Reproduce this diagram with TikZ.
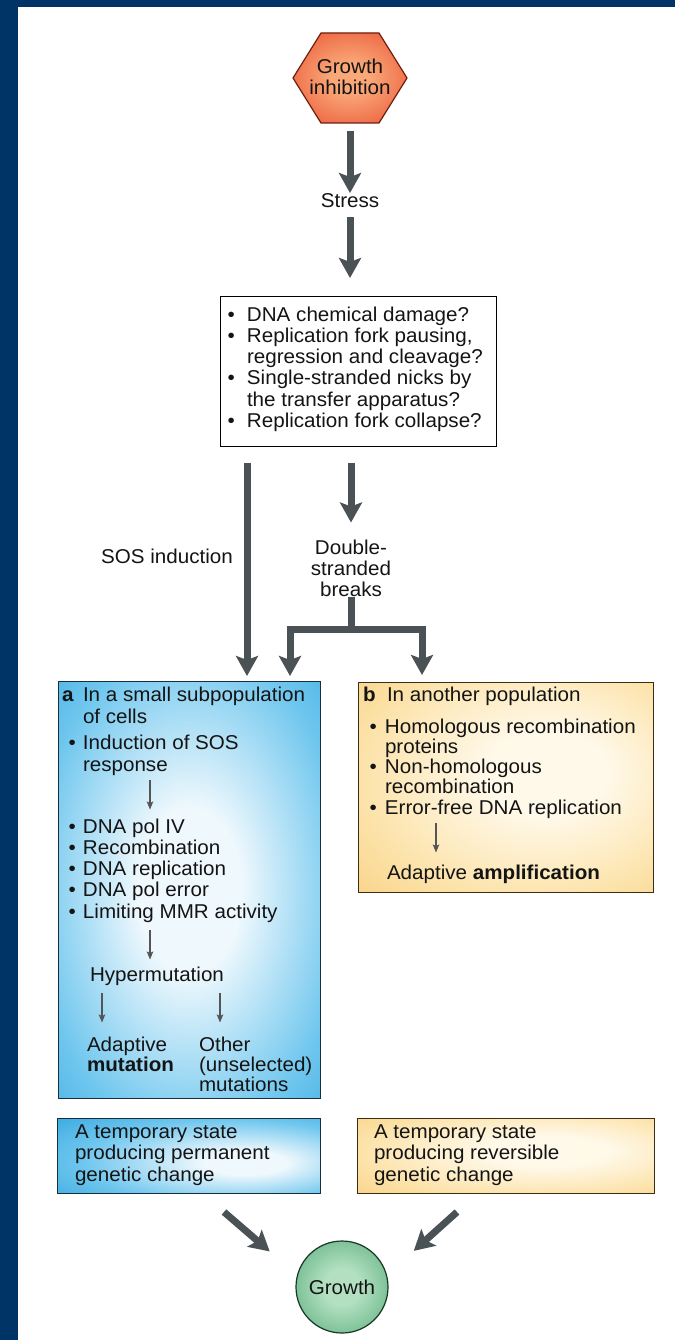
\documentclass[tikz,border=0pt]{standalone}
\usepackage{fontspec}
\setmainfont{Liberation Sans}[FakeStretch=1.03]
\usetikzlibrary{arrows.meta,calc,shapes.geometric}

\definecolor{navy}{RGB}{0,51,102}
\definecolor{arrowgray}{RGB}{75,82,86}
\definecolor{thingray}{RGB}{85,85,85}
\definecolor{inkcol}{RGB}{20,20,20}
\definecolor{hexin}{RGB}{250,168,120}
\definecolor{hexout}{RGB}{228,55,28}
\definecolor{hexline}{RGB}{110,30,15}
\definecolor{bluein}{RGB}{238,248,253}
\definecolor{bluemid}{RGB}{110,198,238}
\definecolor{blueout}{RGB}{22,150,214}
\definecolor{blueline}{RGB}{25,45,60}
\definecolor{yelin}{RGB}{255,249,234}
\definecolor{yelmid}{RGB}{252,226,168}
\definecolor{yelout}{RGB}{244,192,92}
\definecolor{yelline}{RGB}{60,45,20}
\definecolor{grnin}{RGB}{178,224,193}
\definecolor{grnout}{RGB}{48,148,92}
\definecolor{grnline}{RGB}{25,55,35}

\pgfdeclareradialshading{hexshade}{\pgfpoint{0bp}{0bp}}{color(0bp)=(hexin); color(8bp)=(hexin); color(45bp)=(hexout); color(75bp)=(hexout)}
\pgfdeclareradialshading{blueshade}{\pgfpoint{0bp}{0bp}}{color(0bp)=(bluein); color(10bp)=(bluein); color(30bp)=(bluemid); color(52bp)=(blueout); color(75bp)=(blueout)}
\pgfdeclareradialshading{blueshadeb}{\pgfpoint{12bp}{-5bp}}{color(0bp)=(bluein); color(8bp)=(bluein); color(28bp)=(bluemid); color(52bp)=(blueout); color(75bp)=(blueout)}
\pgfdeclareradialshading{yelshade}{\pgfpoint{8bp}{4bp}}{color(0bp)=(yelin); color(10bp)=(yelin); color(30bp)=(yelmid); color(55bp)=(yelout); color(75bp)=(yelout)}
\pgfdeclareradialshading{grnshade}{\pgfpoint{0bp}{0bp}}{color(0bp)=(grnin); color(10bp)=(grnin); color(48bp)=(grnout); color(75bp)=(grnout)}

% bullet with a hanging indent of #1 pt, and the matching indent for continuation lines
\newcommand\bulletat[1]{\makebox[#1pt][l]{\textbullet}}
\newcommand\indentby[1]{\hspace*{#1pt}}
\newcommand\textsize{\fontsize{20}{21.3}\selectfont}

\begin{document}
\begin{tikzpicture}[x=1pt,y=-1pt,
  txt/.style={inner sep=0pt, outer sep=0pt, text=inkcol, font=\textsize},
  bigarrow/.style={draw=arrowgray, line width=7pt, line join=miter,
    -{Stealth[length=20pt,width=22pt,inset=4pt]}},
  bigline/.style={draw=arrowgray, line width=7pt},
  thinarr/.style={draw=thingray, line width=1.3pt,
    -{Stealth[length=8pt,width=6.5pt,inset=1.5pt]}},
  panel/.style={inner sep=0pt, line width=1.4pt, anchor=north west},
  bluepanel/.style={panel, draw=blueline, shade, shading=blueshade},
  yelpanel/.style={panel, draw=yelline, shade, shading=yelshade}
]
\useasboundingbox (0,0) rectangle (675,1340);

% page frame
\fill[navy] (0,0) rectangle (675,7);
\fill[navy] (0,0) rectangle (18,1340);

% growth inhibition hexagon
\shade[shading=hexshade, draw=hexline, line width=1.2pt]
  (321,33) -- (379,33) -- (407,78) -- (379,123) -- (321,123) -- (293,78) -- cycle;
\node[txt, minimum width=114pt, minimum height=90pt, align=center] (gi) at (350,77)
  {Growth\\inhibition};

\node[txt, anchor=base] (stress) at (350,208) {Stress};

% causes box
\node[panel, draw=black, fill=white, minimum width=276pt, minimum height=150pt] (causes) at (220,296) {};
\node[txt, anchor=base west] (causetext) at (227.6,321) {\parbox[t]{265pt}{\textsize
  \bulletat{19.4}DNA chemical damage?\\
  \bulletat{19.4}Replication fork pausing,\\
  \indentby{19.4}regression and cleavage?\\
  \bulletat{19.4}Single-stranded nicks by\\
  \indentby{19.4}the transfer apparatus?\\
  \bulletat{19.4}Replication fork collapse?}};

\node[txt, anchor=base] (soslabel) at (167,563) {SOS induction};
\node[txt, anchor=base] (dsb) at (351,554) {\parbox[t]{100pt}{\centering\textsize
  Double-\\stranded\\breaks}};

% panels
\node[bluepanel, minimum width=262pt, minimum height=417pt] (boxa) at (58,681) {};
\node[yelpanel, minimum width=295pt, minimum height=210pt] (boxb) at (358,682) {};
\node[panel, draw=blueline, shade, shading=blueshadeb, minimum width=263pt, minimum height=75pt] (perm) at (57,1118) {};
\node[yelpanel, minimum width=297pt, minimum height=75pt] (rev) at (357,1118) {};

% panel a contents
\node[txt, anchor=base west] (ahead) at (62,701) {\parbox[t]{255pt}{\fontsize{20}{22}\selectfont
  \makebox[21pt][l]{\bfseries a}In a small subpopulation\\
  \indentby{21}of cells}};
\node[txt, anchor=base west] (asos) at (68.6,749) {\parbox[t]{245pt}{\fontsize{20}{22}\selectfont
  \bulletat{14.4}Induction of SOS\\
  \indentby{14.4}response}};
\node[txt, anchor=base west] (alist) at (68.6,833) {\parbox[t]{245pt}{\textsize
  \bulletat{14.4}DNA pol IV\\
  \bulletat{14.4}Recombination\\
  \bulletat{14.4}DNA replication\\
  \bulletat{14.4}DNA pol error\\
  \bulletat{14.4}Limiting MMR activity}};
\node[txt, anchor=base west] (hyper) at (90,981) {Hypermutation};
\node[txt, anchor=base west] (adapt) at (87,1051) {\parbox[t]{110pt}{\fontsize{20}{20}\selectfont
  Adaptive\\\textbf{mutation}}};
\node[txt, anchor=base west] (other) at (199,1051) {\parbox[t]{120pt}{\fontsize{20}{20}\selectfont
  Other\\(unselected)\\mutations}};

% panel b contents
\node[txt, anchor=base west] (bhead) at (363,701) {\makebox[24pt][l]{\bfseries b}In another population};
\node[txt, anchor=base west] (blist) at (369.6,733) {\parbox[t]{280pt}{\fontsize{20}{20.3}\selectfont
  \bulletat{15.4}Homologous recombination\\
  \indentby{15.4}proteins\\
  \bulletat{15.4}Non-homologous\\
  \indentby{15.4}recombination\\
  \bulletat{15.4}Error-free DNA replication}};
\node[txt, anchor=base west] (bamp) at (387,879) {Adaptive \textbf{amplification}};

% summary panels
\node[txt, anchor=base west] (permtext) at (75,1138) {\parbox[t]{240pt}{\fontsize{20}{21.5}\selectfont
  A temporary state\\producing permanent\\genetic change}};
\node[txt, anchor=base west] (revtext) at (374,1138) {\parbox[t]{270pt}{\fontsize{20}{21.5}\selectfont
  A temporary state\\producing reversible\\genetic change}};

% growth
\node[circle, minimum size=92pt, inner sep=0pt, shade, shading=grnshade, draw=grnline,
  line width=1.2pt, text=inkcol, font=\textsize] (growth) at (342,1287) {Growth};

% column positions for vertical connectors
\coordinate (sosx) at (247,0);
\coordinate (ax2) at (290,0);
\coordinate (bx) at (422,0);
\coordinate (split) at (351,629);
\coordinate (ta) at (150,0);
\coordinate (tl) at (102,0);
\coordinate (tr) at (220,0);
\coordinate (tb) at (436,0);
\coordinate (d1s) at (224,1212);
\coordinate (d2s) at (457,1212);

% main flow
\draw[bigarrow, shorten <=9pt, shorten >=1pt] (gi.south) -- (stress.north);
\draw[bigarrow, shorten <=9pt, shorten >=18pt] (stress.south) -- (causes.north -| stress);
\draw[bigarrow, shorten <=16pt, shorten >=5pt] (causes.south -| sosx) -- (boxa.north -| sosx);
\draw[bigarrow, shorten <=16pt, shorten >=17pt] (causes.south -| dsb) -- (dsb.north);
\draw[bigline] (dsb.south) -- (split);
\draw[bigarrow, shorten >=5pt] (split) -| (boxa.north -| ax2);
\draw[bigarrow, shorten >=7pt] (split) -| (boxb.north -| bx);

% steps inside the panels
\draw[thinarr, shorten <=5pt, shorten >=9pt] (asos.south -| ta) -- (alist.north -| ta);
\draw[thinarr, shorten <=8pt, shorten >=7pt] (alist.south -| ta) -- (hyper.north -| ta);
\draw[thinarr, shorten <=8pt, shorten >=14pt] (hyper.south -| tl) -- (adapt.north -| tl);
\draw[thinarr, shorten <=8pt, shorten >=14pt] (hyper.south -| tr) -- (other.north -| tr);
\draw[thinarr, shorten <=5pt, shorten >=12pt] (blist.south -| tb) -- (bamp.north -| tb);

% towards growth
\draw[bigarrow, shorten >=36pt] (d1s) -- (growth.165);
\draw[bigarrow, shorten >=36pt] (d2s) -- (growth.15);
\end{tikzpicture}
\end{document}
